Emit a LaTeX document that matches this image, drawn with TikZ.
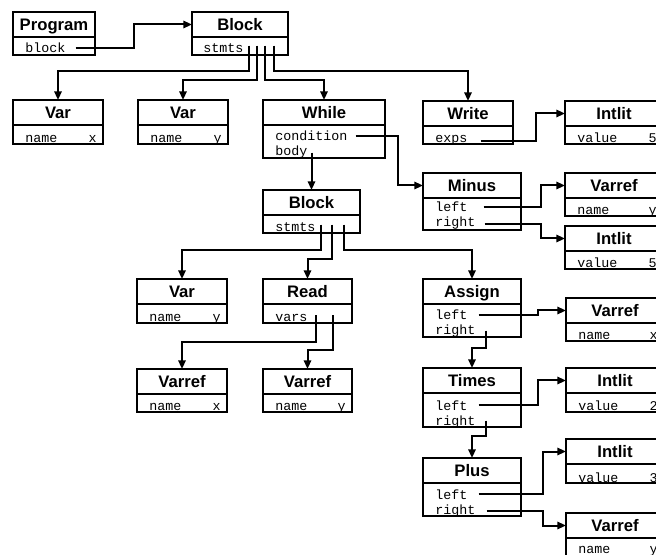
\documentclass[tikz,border=0pt]{standalone}
\usepackage{fontspec}
\newfontfamily\boxfont{Liberation Sans}
\newfontfamily\fieldfont{Liberation Mono}
\usetikzlibrary{arrows.meta}

% record box: name, left, top, width, field height, title
\newcommand{\recbox}[6]{%
  \node[boxtitle, minimum width={#4*0.75pt}, anchor=north west] (#1) at (#2,#3) {#6};
  \draw[boxline] (#1.south west) rectangle ++(#4,#5);
}

\begin{document}
\begin{tikzpicture}[x=0.75pt,y=-0.75pt,
    boxline/.style={line width=1.5pt},
    boxtitle/.style={draw, line width=1.5pt, inner sep=0pt, outer sep=0pt,
      minimum height=18.75pt, text height=8.9pt, text depth=0pt,
      font=\boxfont\bfseries\fontsize{12.5}{14}\selectfont},
    field/.style={inner sep=0pt, anchor=base west, font=\fieldfont\fontsize{10}{12}\selectfont},
    value/.style={field, anchor=base east},
    link/.style={line width=1.5pt, -{Triangle[length=6.5pt,width=5.5pt]}}]
    \fill[white] (0,0) rectangle (656,555);
    \useasboundingbox (0,0) rectangle (656,555);

    \recbox{prog}{13}{12}{82}{18}{Program}
    \node[field] (prog-block) at (25,53) {block};
    \recbox{blk}{192}{12}{96}{18}{Block}
    \node[field] (blk-stmts) at (203,53) {stmts};

    \recbox{var1}{13}{100}{90}{19}{Var}
    \node[field] (var1-name) at (25,143) {name};
    \node[value] (var1-val) at (97,143) {x};
    \recbox{var2}{138}{100}{90}{19}{Var}
    \node[field] (var2-name) at (150,143) {name};
    \node[value] (var2-val) at (222,143) {y};
    \recbox{while}{263}{100}{122}{33}{While}
    \node[field] (while-cond) at (275,141) {condition};
    \node[field] (while-body) at (275,156) {body};
    \recbox{write}{423}{101}{90}{18}{Write}
    \node[field] (write-exps) at (435,143) {exps};
    \recbox{lit5a}{565}{101}{98}{18}{Intlit}
    \node[field] (lit5a-name) at (577,143) {value};
    \node[value] (lit5a-val) at (657,143) {5};

    \recbox{minus}{423}{173}{98}{32}{Minus}
    \node[field] (minus-left) at (435,212) {left};
    \node[field] (minus-right) at (435,227) {right};
    \recbox{refy1}{565}{173}{98}{18}{Varref}
    \node[field] (refy1-name) at (577,215) {name};
    \node[value] (refy1-val) at (657,215) {y};
    \recbox{lit5b}{565}{226}{98}{18}{Intlit}
    \node[field] (lit5b-name) at (577,268) {value};
    \node[value] (lit5b-val) at (657,268) {5};

    \recbox{blk2}{263}{190}{97}{18}{Block}
    \node[field] (blk2-stmts) at (275,232) {stmts};

    \recbox{var3}{137}{279}{90}{19}{Var}
    \node[field] (var3-name) at (149,322) {name};
    \node[value] (var3-val) at (221,322) {y};
    \recbox{read}{263}{279}{89}{19}{Read}
    \node[field] (read-vars) at (275,322) {vars};
    \recbox{refx1}{137}{369}{90}{18}{Varref}
    \node[field] (refx1-name) at (149,411) {name};
    \node[value] (refx1-val) at (221,411) {x};
    \recbox{refy2}{263}{369}{89}{18}{Varref}
    \node[field] (refy2-name) at (275,411) {name};
    \node[value] (refy2-val) at (346,411) {y};

    \recbox{assign}{423}{279}{98}{33}{Assign}
    \node[field] (assign-left) at (435,320) {left};
    \node[field] (assign-right) at (435,335) {right};
    \recbox{refx2}{566}{298}{98}{18}{Varref}
    \node[field] (refx2-name) at (578,340) {name};
    \node[value] (refx2-val) at (658,340) {x};
    \recbox{times}{423}{368}{98}{34}{Times}
    \node[field] (times-left) at (435,410) {left};
    \node[field] (times-right) at (435,425) {right};
    \recbox{lit2}{566}{368}{98}{19}{Intlit}
    \node[field] (lit2-name) at (578,411) {value};
    \node[value] (lit2-val) at (658,411) {2};
    \recbox{plus}{423}{458}{98}{33}{Plus}
    \node[field] (plus-left) at (435,499) {left};
    \node[field] (plus-right) at (435,514) {right};
    \recbox{lit3}{566}{439}{98}{19}{Intlit}
    \node[field] (lit3-name) at (578,482) {value};
    \node[value] (lit3-val) at (658,482) {3};
    \recbox{refy3}{566}{513}{98}{19}{Varref}
    \node[field] (refy3-name) at (578,553) {name};
    \node[value] (refy3-val) at (658,553) {y};

    \draw[link] ([shift={(10,0)}]prog-block.east) -- ++(58,0) |- (blk.west);
    \draw[link] ([shift={(5,-3)}]blk-stmts.east) -- ++(0,25) -| (var1.north);
    \draw[link] ([shift={(13,-3)}]blk-stmts.east) -- ++(0,34) -| (var2.north);
    \draw[link] ([shift={(21,-3)}]blk-stmts.east) -- ++(0,34) -| (while.north);
    \draw[link] ([shift={(30,-3)}]blk-stmts.east) -- ++(0,25) -| (write.north);

    \draw[link] ([shift={(8,0)}]while-cond.east) -- ++(42,0) |- (minus.west);
    \draw[link] (blk2.north |- while-body.east) -- (blk2.north);
    \draw[link] ([shift={(13,0)}]write-exps.east) -- ++(55,0) |- (lit5a.west);
    \draw[link] ([shift={(16,0)}]minus-left.east) -- ++(57,0) |- (refy1.west);
    \draw[link] ([shift={(9,0)}]minus-right.east) -- ++(56,0) |- (lit5b.west);

    \draw[link] ([shift={(5,-3)}]blk2-stmts.east) -- ++(0,25) -| (var3.north);
    \draw[link] ([shift={(16,-3)}]blk2-stmts.east) -- ++(0,34) -| (read.north);
    \draw[link] ([shift={(28,-3)}]blk2-stmts.east) -- ++(0,25) -| (assign.north);
    \draw[link] ([shift={(8,-3)}]read-vars.east) -- ++(0,27) -| (refx1.north);
    \draw[link] ([shift={(25,-3)}]read-vars.east) -- ++(0,35) -| (refy2.north);

    \draw[link] ([shift={(11,0)}]assign-left.east) -- ++(59,0) |- (refx2.west);
    \draw[link] ([shift={(10,-1)}]assign-right.east) -- ++(0,17) -| (times.north);
    \draw[link] ([shift={(11,0)}]times-left.east) -- ++(59,0) |- (lit2.west);
    \draw[link] ([shift={(10,-1)}]times-right.east) -- ++(0,15) -| (plus.north);
    \draw[link] ([shift={(11,0)}]plus-left.east) -- ++(64,0) |- (lit3.west);
    \draw[link] ([shift={(11,0)}]plus-right.east) -- ++(56,0) |- (refy3.west);
\end{tikzpicture}
\end{document}
